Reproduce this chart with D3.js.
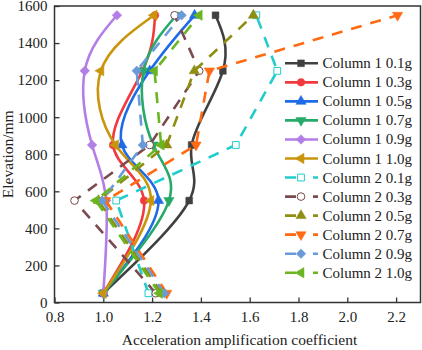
<!DOCTYPE html>
<html>
<head>
<meta charset="utf-8">
<script src="https://cdn.jsdelivr.net/npm/d3@7"></script>
<style>
  body { margin: 0; background: #fff; }
  text { font-family: "Liberation Serif", "Times New Roman", serif; fill: #222; }
</style>
</head>
<body>
<div id="chart"></div>
<script>
// elevations of the measuring points (mm)
const elevation = [50, 550, 850, 1250, 1550];

// acceleration amplification coefficients, one array per series
const col1_01 = [1.0, 1.352, 1.362, 1.49, 1.46];
const col1_03 = [1.0, 1.167, 1.04, 1.16, 1.212];
const col1_05 = [1.0, 1.226, 1.076, 1.19, 1.374];
const col1_07 = [1.0, 1.269, 1.205, 1.165, 1.30];
const col1_09 = [1.0, 1.012, 0.954, 0.924, 1.056];
const col1_10 = [1.0, 1.195, 1.05, 0.99, 1.208];
const col2_01 = [1.185, 1.053, 1.543, 1.713, 1.627];
const col2_03 = [1.215, 0.882, 1.19, 1.393, 1.292];
const col2_05 = [1.24, 0.98, 1.26, 1.373, 1.615];
const col2_07 = [1.26, 1.01, 1.38, 1.435, 2.206];
const col2_09 = [1.25, 0.995, 1.162, 1.137, 1.321];
const col2_10 = [1.23, 0.97, 1.237, 1.21, 1.393];

const seriesNames = ["Column 1 0.1g", "Column 1 0.3g", "Column 1 0.5g", "Column 1 0.7g",
  "Column 1 0.9g", "Column 1 1.0g", "Column 2 0.1g", "Column 2 0.3g", "Column 2 0.5g",
  "Column 2 0.7g", "Column 2 0.9g", "Column 2 1.0g"];
const seriesValues = [col1_01, col1_03, col1_05, col1_07, col1_09, col1_10,
  col2_01, col2_03, col2_05, col2_07, col2_09, col2_10];

const xTicks = [0.8, 1.0, 1.2, 1.4, 1.6, 1.8, 2.0, 2.2];
const yTicks = [0, 200, 400, 600, 800, 1000, 1200, 1400, 1600];

// styles
const colors = ["#404040", "#f23a3e", "#1d6be6", "#27a96a", "#b37ee6", "#c9950c",
  "#22cccc", "#7a4a4e", "#8e8e12", "#ff6a12", "#6a9bd9", "#6ab520"];
// marker shape + rotation
const markers = [
  ["square", 0], ["circle", 0], ["triangle", 0], ["triangle", 180], ["square", 45], ["triangle", -90],
  ["square", 0], ["circle", 0], ["triangle", 0], ["triangle", 180], ["square", 45], ["triangle", -90]
];
const hollow = [false, false, false, false, false, false, true, true, false, false, false, false];

const W = 422, H = 350;
const mLeft = 54.5, mRight = 420.5, mTop = 6, mBottom = 302.5;

const svg = d3.select("#chart").append("svg")
  .attr("width", W).attr("height", H)
  .attr("viewBox", [0, 0, W, H]);

const xScale = d3.scaleLinear().domain([0.8, 2.3]).range([mLeft, mRight]);
const yScale = d3.scaleLinear().domain([0, 1600]).range([mBottom, mTop]);

// frame
svg.append("rect")
  .attr("x", mLeft).attr("y", mTop)
  .attr("width", mRight - mLeft).attr("height", mBottom - mTop)
  .attr("fill", "none").attr("stroke", "#333").attr("stroke-width", 1.5);

// axes
const xAxis = svg.append("g")
  .attr("transform", `translate(0, ${mBottom})`)
  .call(d3.axisBottom(xScale).tickValues(xTicks).tickFormat(d3.format(".1f"))
    .tickSize(-5).tickPadding(9).tickSizeOuter(0));
const yAxis = svg.append("g")
  .attr("transform", `translate(${mLeft}, 0)`)
  .call(d3.axisLeft(yScale).tickValues(yTicks).tickFormat(d3.format("d"))
    .tickSize(-5).tickPadding(7).tickSizeOuter(0));
[xAxis, yAxis].forEach(ax => {
  ax.select(".domain").remove();
  ax.selectAll(".tick line").attr("stroke", "#333").attr("stroke-width", 1.3);
  ax.selectAll(".tick text").attr("font-size", 15)
    .attr("font-family", "Liberation Serif, Times New Roman, serif").attr("fill", "#222");
});

// axis titles
svg.append("text")
  .attr("x", (mLeft + mRight) / 2 + 2).attr("y", 345)
  .attr("text-anchor", "middle").attr("font-size", 15.5)
  .text("Acceleration amplification coefficient");
svg.append("text")
  .attr("transform", `translate(13, ${(mTop + mBottom) / 2}) rotate(-90)`)
  .attr("text-anchor", "middle").attr("font-size", 15.5)
  .text("Elevation/mm");

const symbolType = { square: d3.symbolSquare, circle: d3.symbolCircle, triangle: d3.symbolTriangle };
const symbolSize = { square: 46, circle: 46, triangle: 46 };
function marker(g, i, x, y) {
  const [shape, rot] = markers[i];
  g.append("path")
    .attr("d", d3.symbol(symbolType[shape], symbolSize[shape])())
    .attr("transform", `translate(${x}, ${y}) rotate(${rot})`)
    .attr("fill", hollow[i] ? "#fff" : colors[i])
    .attr("stroke", colors[i])
    .attr("stroke-width", hollow[i] ? 1 : 0.5);
}

const plot = svg.append("g");

seriesValues.forEach((vals, i) => {
  const pts = vals.map((v, k) => [v, elevation[k]]);
  const dashed = i >= 6;
  const line = d3.line()
    .x(d => xScale(d[0]))
    .y(d => yScale(d[1]))
    .curve(dashed ? d3.curveLinear : d3.curveNatural);
  plot.append("path")
    .datum(pts)
    .attr("d", line)
    .attr("fill", "none")
    .attr("stroke", colors[i])
    .attr("stroke-width", 2.6)
    .attr("stroke-dasharray", dashed ? "11,9" : null);
  pts.forEach(d => marker(plot, i, xScale(d[0]), yScale(d[1])));
});

// legend
const legend = svg.append("g");
seriesNames.forEach((name, i) => {
  const y = 63.3 + i * 19.04;
  legend.append("line")
    .attr("x1", 285).attr("x2", 318).attr("y1", y).attr("y2", y)
    .attr("stroke", colors[i]).attr("stroke-width", 2.6)
    .attr("stroke-dasharray", i >= 6 ? "11,17" : null);
  marker(legend, i, 301, y);
  legend.append("text")
    .attr("x", 322.5).attr("y", y + 5)
    .attr("font-size", 15)
    .text(name);
});
</script>
</body>
</html>
